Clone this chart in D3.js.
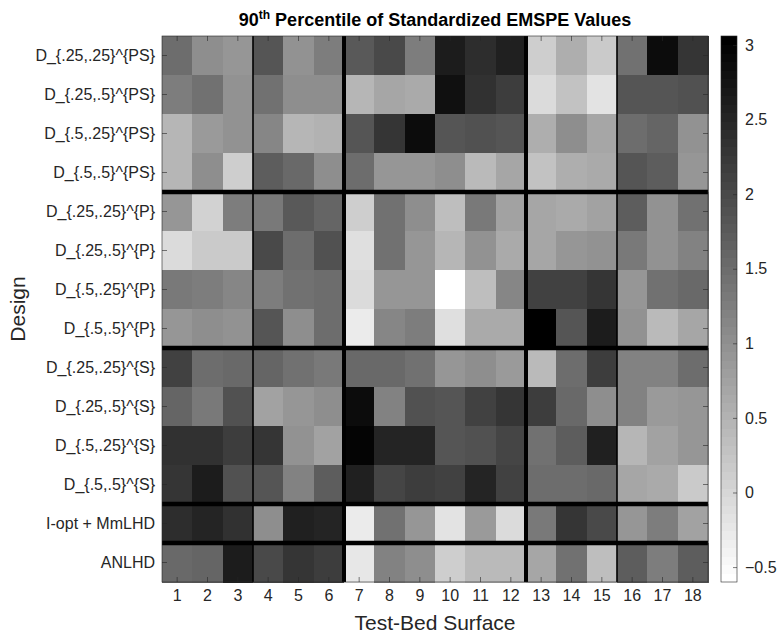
<!DOCTYPE html>
<html>
<head>
<meta charset="utf-8">
<script src="https://cdn.jsdelivr.net/npm/d3@7/dist/d3.min.js"></script>
<style>
  html, body { margin: 0; padding: 0; background: #fff; }
  svg { display: block; font-family: "Liberation Sans", Arial, Helvetica, sans-serif; }
</style>
</head>
<body>
<svg id="chart" width="781" height="635"></svg>
<script>
// Design labels (rows) and test-bed surfaces (columns)
const designs = [
  "D_{.25,.25}^{PS}", "D_{.25,.5}^{PS}", "D_{.5,.25}^{PS}", "D_{.5,.5}^{PS}",
  "D_{.25,.25}^{P}", "D_{.25,.5}^{P}", "D_{.5,.25}^{P}", "D_{.5,.5}^{P}",
  "D_{.25,.25}^{S}", "D_{.25,.5}^{S}", "D_{.5,.25}^{S}", "D_{.5,.5}^{S}",
  "I-opt + MmLHD", "ANLHD"
];
const surfaces = d3.range(1, 19);

// 90th percentile of standardized EMSPE, one row per design, 18 surfaces each
const emspe = [
  [1.48, 1.05, 0.91, 1.84, 0.98, 1.27, 1.77, 1.98, 1.27, 2.63, 2.41, 2.56, 0.12, 0.55, 0.19, 1.41, 2.85, 2.27],
  [1.27, 1.41, 0.98, 1.41, 1.05, 1.05, 0.48, 0.69, 0.62, 2.80, 2.34, 2.20, -0.03, 0.26, -0.17, 1.84, 1.84, 1.91],
  [0.48, 0.84, 0.98, 1.12, 0.48, 0.51, 1.84, 2.27, 2.85, 1.84, 1.91, 1.84, 0.55, 1.05, 0.69, 1.48, 1.62, 0.98],
  [0.48, 1.05, 0.12, 1.70, 1.55, 1.05, 1.48, 0.91, 0.91, 1.05, 0.40, 0.69, 0.26, 0.55, 0.62, 1.84, 1.70, 0.91],
  [0.91, 0.05, 1.27, 1.34, 1.77, 1.62, 0.12, 1.41, 1.05, 0.33, 1.34, 0.76, 0.69, 0.62, 0.76, 1.70, 0.98, 1.41],
  [-0.03, 0.19, 0.19, 1.98, 1.48, 1.91, -0.13, 1.41, 0.91, 0.48, 0.98, 0.62, 0.69, 0.91, 0.98, 1.34, 0.98, 1.19],
  [1.34, 1.27, 1.12, 1.27, 1.41, 1.48, -0.03, 0.91, 0.91, -0.60, 0.33, 1.12, 2.13, 2.13, 2.27, 0.91, 1.41, 1.55],
  [0.91, 1.05, 0.98, 1.84, 1.05, 1.48, -0.31, 1.12, 1.27, -0.10, 0.62, 0.62, 3.06, 1.84, 2.63, 0.98, 0.40, 0.69],
  [2.13, 1.48, 1.55, 1.62, 1.41, 1.34, 1.55, 1.55, 1.41, 0.91, 1.05, 0.84, 0.40, 1.48, 2.20, 1.19, 1.19, 1.48],
  [1.62, 1.34, 1.91, 0.76, 0.91, 1.05, 2.85, 1.19, 1.91, 1.84, 2.13, 2.27, 2.20, 1.55, 1.05, 1.19, 0.84, 0.91],
  [2.34, 2.34, 2.20, 2.27, 0.98, 0.76, 2.99, 2.49, 2.49, 1.84, 1.91, 2.06, 1.41, 1.70, 2.56, 0.48, 0.76, 0.91],
  [2.27, 2.63, 1.91, 1.84, 1.19, 1.70, 2.56, 2.06, 2.20, 2.13, 2.49, 2.13, 1.48, 1.48, 1.55, 0.69, 0.62, 0.19],
  [2.41, 2.49, 2.34, 1.05, 2.56, 2.49, -0.31, 1.41, 0.91, -0.17, 0.84, -0.03, 1.34, 2.27, 1.98, 0.91, 1.27, 0.76],
  [1.55, 1.62, 2.63, 1.98, 2.27, 2.20, -0.24, 1.19, 1.05, 0.12, 0.40, 0.40, 0.69, 1.41, 0.33, 1.70, 1.27, 1.70]
];

// Colour limits and colourbar ticks
const colorLimits = [-0.6, 3.06];
const colorTicks = [-0.5, 0, 0.5, 1, 1.5, 2, 2.5, 3];

// Group boundaries: after these surface / design counts
const surfaceBreaks = [3, 6, 12, 15];
const designBreaks = [4, 8, 12, 13];

const svg = d3.select("#chart");
const plot = { left: 162, right: 708, top: 36, bottom: 582 };
const axisColor = "#262626";

const x = d3.scaleBand().domain(surfaces).range([plot.left, plot.right]);
const y = d3.scaleBand().domain(designs).range([plot.top, plot.bottom]);

// reversed gray colormap, 64 levels
const nLevels = 64;
const levelScale = d3.scaleQuantize().domain(colorLimits).range(d3.range(nLevels));
const gray = lvl => d3.interpolateRgb("#ffffff", "#000000")(lvl / (nLevels - 1));
const color = v => gray(levelScale(Math.max(colorLimits[0], Math.min(colorLimits[1], v))));

const cells = [];
emspe.forEach((row, i) => row.forEach((v, j) => cells.push({ design: designs[i], surface: surfaces[j], v })));

svg.append("g").selectAll("rect").data(cells).join("rect")
  .attr("x", d => x(d.surface))
  .attr("y", d => y(d.design))
  .attr("width", x.bandwidth() + 0.5)
  .attr("height", y.bandwidth() + 0.5)
  .attr("fill", d => color(d.v))
  .attr("shape-rendering", "crispEdges");

// group separators
const sepG = svg.append("g").attr("stroke", "#000");
surfaceBreaks.forEach(b => {
  const xp = x(surfaces[b]);
  const thin = (b === 3 || b === 15);
  sepG.append("line").attr("x1", xp).attr("x2", xp)
    .attr("y1", plot.top).attr("y2", plot.bottom)
    .attr("stroke-width", thin ? 1.6 : 4);
});
designBreaks.forEach(b => {
  const yp = y(designs[b]);
  sepG.append("line").attr("y1", yp).attr("y2", yp)
    .attr("x1", plot.left).attr("x2", plot.right)
    .attr("stroke-width", 4.5);
});

// axes with inward ticks on all four sides
function styleAxis(g) {
  g.select(".domain").remove();
  g.selectAll(".tick line").attr("stroke", axisColor).attr("stroke-width", 0.6);
  g.selectAll(".tick text").attr("fill", "#262626").attr("font-size", 16);
}
svg.append("g").attr("transform", `translate(${plot.left},0)`)
  .call(d3.axisLeft(y).tickSize(-5).tickPadding(7)).call(styleAxis);
svg.append("g").attr("transform", `translate(0,${plot.bottom})`)
  .call(d3.axisBottom(x).tickSize(-5).tickPadding(8)).call(styleAxis);
svg.append("g").attr("transform", `translate(0,${plot.top})`)
  .call(d3.axisTop(x).tickSize(-5).tickFormat("")).call(styleAxis);
svg.append("g").attr("transform", `translate(${plot.right},0)`)
  .call(d3.axisRight(y).tickSize(-5).tickFormat("")).call(styleAxis);

svg.append("rect")
  .attr("x", plot.left).attr("y", plot.top)
  .attr("width", plot.right - plot.left).attr("height", plot.bottom - plot.top)
  .attr("fill", "none").attr("stroke", axisColor).attr("stroke-width", 0.6);

// title with superscript
const title = svg.append("text")
  .attr("x", 435).attr("y", 26)
  .attr("text-anchor", "middle")
  .attr("font-size", 18).attr("font-weight", "bold").attr("fill", "#000");
title.append("tspan").text("90");
title.append("tspan").attr("dy", -7).attr("font-size", 12).text("th");
title.append("tspan").attr("dy", 7).text(" Percentile of Standardized EMSPE Values");

// axis titles
svg.append("text")
  .attr("x", (plot.left + plot.right) / 2).attr("y", 630)
  .attr("text-anchor", "middle").attr("font-size", 21).attr("fill", "#262626")
  .text("Test-Bed Surface");
svg.append("text")
  .attr("transform", `translate(25,${(plot.top + plot.bottom) / 2}) rotate(-90)`)
  .attr("text-anchor", "middle").attr("font-size", 21).attr("fill", "#262626")
  .text("Design");

// colourbar
const cb = { left: 721, right: 737, top: plot.top, bottom: plot.bottom };
const cbScale = d3.scaleLinear().domain(colorLimits).range([cb.bottom, cb.top]);
const levelEdges = d3.range(nLevels + 1).map(i => colorLimits[0] + (colorLimits[1] - colorLimits[0]) * i / nLevels);
svg.append("g").selectAll("rect").data(d3.range(nLevels)).join("rect")
  .attr("x", cb.left)
  .attr("y", i => cbScale(levelEdges[i + 1]))
  .attr("width", cb.right - cb.left)
  .attr("height", i => cbScale(levelEdges[i]) - cbScale(levelEdges[i + 1]) + 0.5)
  .attr("fill", i => gray(i))
  .attr("shape-rendering", "crispEdges");
svg.append("g").attr("transform", `translate(${cb.right},0)`)
  .call(d3.axisRight(cbScale).tickValues(colorTicks).tickSize(-4).tickPadding(8).tickFormat(d3.format("")))
  .call(styleAxis);
svg.append("rect")
  .attr("x", cb.left).attr("y", cb.top)
  .attr("width", cb.right - cb.left).attr("height", cb.bottom - cb.top)
  .attr("fill", "none").attr("stroke", axisColor).attr("stroke-width", 0.6);
</script>
</body>
</html>
